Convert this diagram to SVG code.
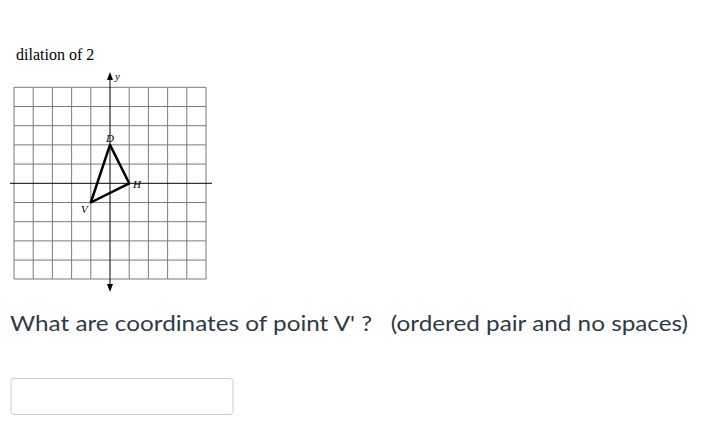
<svg xmlns="http://www.w3.org/2000/svg" width="717" height="435" viewBox="0 0 717 435">
<style>
.grid{stroke:#7a7a7a;stroke-width:1;fill:none}
.axis{stroke:#000;stroke-width:1;fill:none}
.tri{stroke:#000;stroke-width:2.5;fill:none;stroke-linejoin:round}
.lbl{font-family:"Liberation Serif",serif;font-style:italic;font-size:11px;fill:#000}
</style>
<defs>
<marker id="ah" viewBox="0 0 8 8" refX="4" refY="4" markerWidth="8" markerHeight="8" orient="auto-start-reverse" markerUnits="userSpaceOnUse">
<path d="M0,1 L8,4 L0,7 Z" fill="#000"/>
</marker>
</defs>
<rect width="717" height="435" fill="#fff"/>
<text x="16" y="60" font-family="Liberation Serif, serif" font-size="16" fill="#000">dilation of 2</text>
<g id="grid">
<path class="grid" d="M14,87.3V279 M33.2,87.3V279 M52.4,87.3V279 M71.6,87.3V279 M90.8,87.3V279 M129.2,87.3V279 M148.4,87.3V279 M167.6,87.3V279 M186.8,87.3V279 M206,87.3V279 M14,87.3H206 M14,106.5H206 M14,125.7H206 M14,144.9H206 M14,164.1H206 M14,202.5H206 M14,221.7H206 M14,240.9H206 M14,260.1H206 M14,279H206"/>
</g>
<g id="connectors">
<line class="axis" x1="10" y1="183.3" x2="212" y2="183.3"/>
<line class="axis" x1="110" y1="76" x2="110" y2="288" marker-start="url(#ah)" marker-end="url(#ah)"/>
<polygon class="tri" points="110,144.9 129.2,183.3 90.8,202.5"/>
</g>
<g id="labels">
<text class="lbl" x="115" y="80">y</text>
<text class="lbl" x="106" y="142">D</text>
<text class="lbl" x="133" y="188">H</text>
<text class="lbl" x="81" y="213">V</text>
</g>
<text x="10" y="331" font-family="Lato, sans-serif" font-size="21" fill="#2d3b45" textLength="678" lengthAdjust="spacingAndGlyphs" xml:space="preserve">What are coordinates of point V' ?   (ordered pair and no spaces)</text>
<g id="input">
<rect x="11" y="378.5" width="222" height="36" rx="3" fill="#fff" stroke="#c7cdd1" stroke-width="1"/>
</g>
</svg>
